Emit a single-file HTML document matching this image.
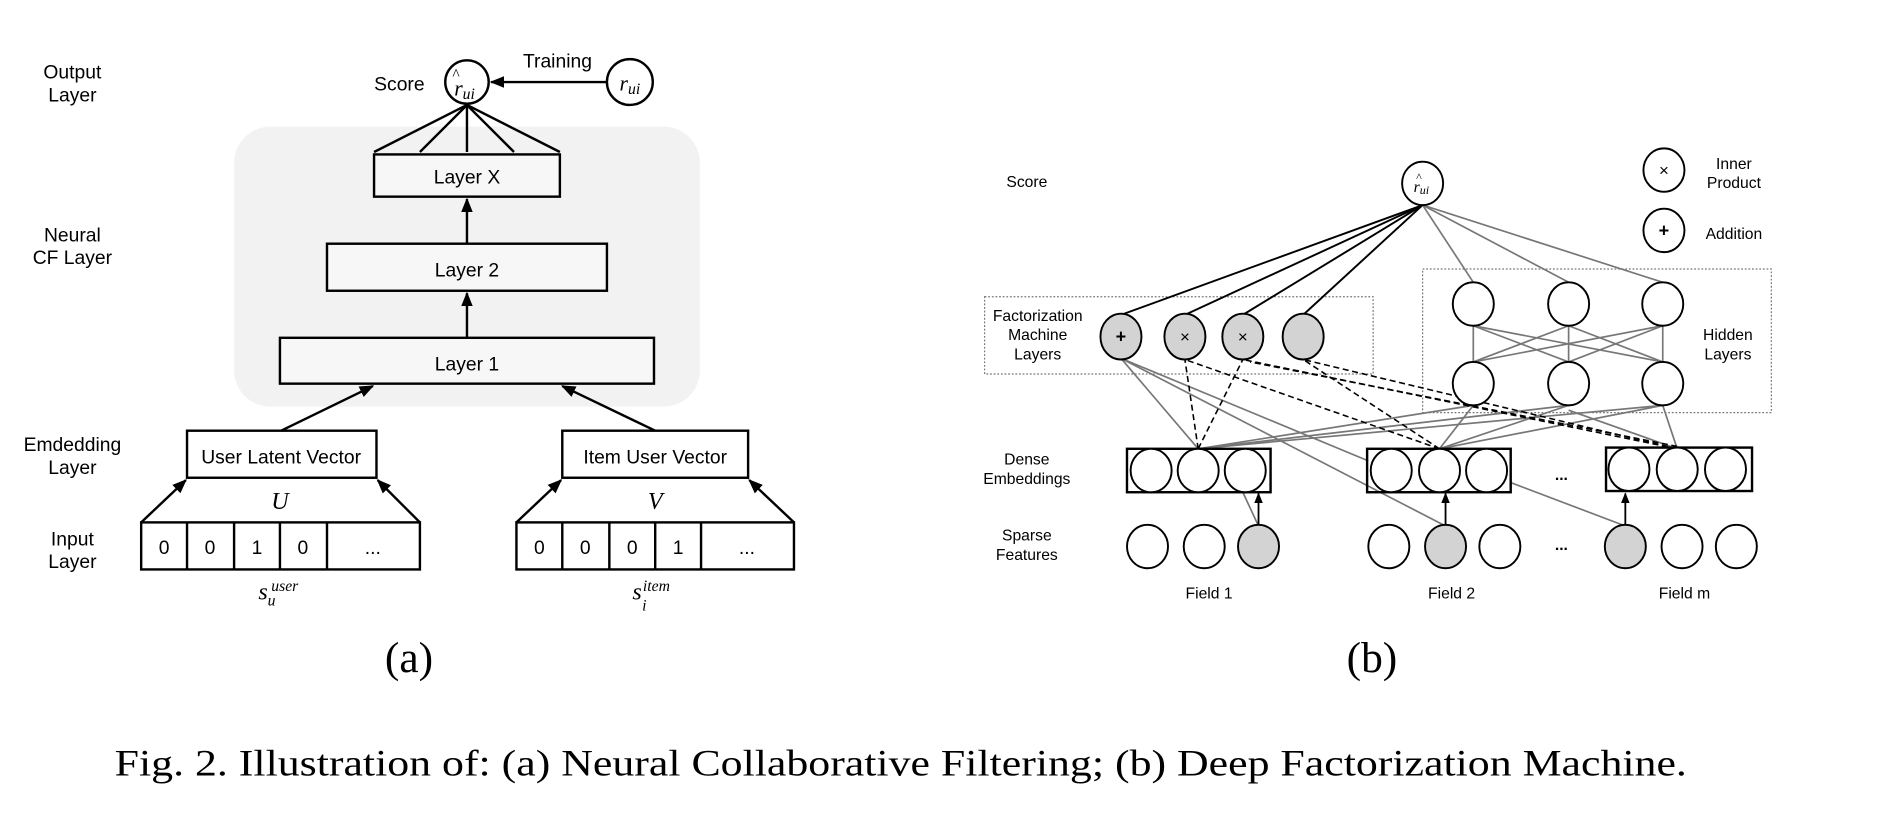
<!DOCTYPE html>
<html><head><meta charset="utf-8"><style>
html,body{margin:0;padding:0;background:#fff;width:1892px;height:824px;overflow:hidden}
svg{display:block}
text{font-family:"Liberation Sans",sans-serif;fill:#000}
.s{font-family:"Liberation Serif",serif;font-style:italic}
.r{font-family:"Liberation Serif",serif}
</style></head><body>
<svg width="1892" height="824" viewBox="0 0 1568 683" preserveAspectRatio="none">
<defs>
<marker id="a" viewBox="0 0 10 10" refX="9" refY="5" markerWidth="6" markerHeight="6" orient="auto"><path d="M0,1 L10,5 L0,9 z" fill="#000"/></marker>
</defs>
<rect x="194" y="105" width="386" height="232" rx="30" fill="#f2f2f2"/>
<g font-size="16" text-anchor="middle">
<text x="60" y="65">Output</text><text x="60" y="84">Layer</text>
<text x="60" y="200">Neural</text><text x="60" y="219">CF Layer</text>
<text x="60" y="374">Emdedding</text><text x="60" y="393">Layer</text>
<text x="60" y="452">Input</text><text x="60" y="471">Layer</text>
<text x="331" y="75">Score</text>
<text x="462" y="56">Training</text>
</g>
<g fill="none" stroke="#000" stroke-width="2">
<circle cx="387" cy="68" r="18" fill="#fff"/>
<circle cx="522" cy="68" r="19" fill="#fff"/>
<line x1="503" y1="68" x2="407" y2="68" marker-end="url(#a)"/>
<line x1="310" y1="126" x2="387" y2="87"/><line x1="348" y1="126" x2="387" y2="87"/><line x1="387" y1="126" x2="387" y2="87"/><line x1="426" y1="126" x2="387" y2="87"/><line x1="464" y1="126" x2="387" y2="87"/>
<rect x="310" y="128" width="154" height="35" fill="#f7f7f7"/>
<rect x="271" y="202" width="232" height="39" fill="#f7f7f7"/>
<rect x="232" y="280" width="310" height="38" fill="#f7f7f7"/>
<line x1="387" y1="202" x2="387" y2="165" marker-end="url(#a)"/>
<line x1="387" y1="280" x2="387" y2="243" marker-end="url(#a)"/>
<rect x="155" y="357" width="157" height="39" fill="#fff"/>
<rect x="466" y="357" width="154" height="39" fill="#fff"/>
<line x1="233" y1="357" x2="309" y2="320" marker-end="url(#a)"/>
<line x1="543" y1="357" x2="466" y2="320" marker-end="url(#a)"/>
<rect x="117" y="433" width="231" height="39"/>
<line x1="155" y1="433" x2="155" y2="472"/><line x1="194" y1="433" x2="194" y2="472"/><line x1="232" y1="433" x2="232" y2="472"/><line x1="271" y1="433" x2="271" y2="472"/>
<rect x="428" y="433" width="230" height="39"/>
<line x1="466" y1="433" x2="466" y2="472"/><line x1="505" y1="433" x2="505" y2="472"/><line x1="543" y1="433" x2="543" y2="472"/><line x1="581" y1="433" x2="581" y2="472"/>
<line x1="117" y1="433" x2="154" y2="398" marker-end="url(#a)"/>
<line x1="348" y1="433" x2="313" y2="398" marker-end="url(#a)"/>
<line x1="428" y1="433" x2="465" y2="398" marker-end="url(#a)"/>
<line x1="658" y1="433" x2="621" y2="398" marker-end="url(#a)"/>
</g>
<g font-size="16" text-anchor="middle">
<text x="387" y="152">Layer X</text><text x="387" y="229">Layer 2</text><text x="387" y="307">Layer 1</text>
<text x="233" y="384">User Latent Vector</text><text x="543" y="384">Item User Vector</text>
<text x="136" y="459">0</text><text x="174" y="459">0</text><text x="213" y="459">1</text><text x="251" y="459">0</text><text x="309" y="459">...</text>
<text x="447" y="459">0</text><text x="485" y="459">0</text><text x="524" y="459">0</text><text x="562" y="459">1</text><text x="619" y="459">...</text>
</g>
<g text-anchor="middle">
<text class="s" x="232" y="422" font-size="20">U</text><text class="s" x="543" y="422" font-size="20">V</text>
<text class="s" x="385" y="79" font-size="18">r<tspan font-size="13" dy="3">ui</tspan></text>
<text class="r" x="378" y="66" font-size="13">^</text>
<text class="s" x="522" y="75" font-size="18">r<tspan font-size="13" dy="3">ui</tspan></text>
<text class="s" x="218" y="497" font-size="20">s</text><text class="s" x="236" y="490" font-size="13">user</text><text class="s" x="225" y="502" font-size="13">u</text>
<text class="s" x="528" y="497" font-size="20">s</text><text class="s" x="544" y="490" font-size="13">item</text><text class="s" x="534" y="506" font-size="13">i</text>
</g>
<text class="r" x="339" y="557" font-size="36" text-anchor="middle">(a)</text>
<text class="r" x="1137" y="557" font-size="36" text-anchor="middle">(b)</text>
<text class="r" x="95" y="643" font-size="31" textLength="1303" lengthAdjust="spacingAndGlyphs">Fig. 2.  Illustration of: (a) Neural Collaborative Filtering; (b) Deep Factorization Machine.</text>

<g font-size="13" text-anchor="middle">
<text x="851" y="155">Score</text>
<text x="1437" y="140">Inner</text><text x="1437" y="156">Product</text>
<text x="1437" y="198">Addition</text>
<text x="860" y="266">Factorization</text><text x="860" y="282">Machine</text><text x="860" y="298">Layers</text>
<text x="1432" y="282">Hidden</text><text x="1432" y="298">Layers</text>
<text x="851" y="385">Dense</text><text x="851" y="401">Embeddings</text>
<text x="851" y="448">Sparse</text><text x="851" y="464">Features</text>
<text x="1002" y="496">Field 1</text><text x="1203" y="496">Field 2</text><text x="1396" y="496">Field m</text>
<text x="1294" y="398" font-weight="bold">...</text><text x="1294" y="456" font-weight="bold">...</text>
</g>
<g fill="none" stroke="#777" stroke-dasharray="1.5,1.5" stroke-width="1">
<rect x="816" y="246" width="322" height="64"/>
<rect x="1179" y="223" width="289" height="119"/>
</g>
<g stroke="#000" stroke-width="1.6">
<line x1="929" y1="261" x2="1179" y2="170"/><line x1="982" y1="261" x2="1179" y2="170"/><line x1="1030" y1="261" x2="1179" y2="170"/><line x1="1080" y1="261" x2="1179" y2="170"/>
</g>
<g stroke="#777" stroke-width="1.4">
<line x1="1221" y1="234" x2="1179" y2="170"/><line x1="1300" y1="234" x2="1179" y2="170"/><line x1="1378" y1="234" x2="1179" y2="170"/>
<line x1="1221" y1="300" x2="1221" y2="270"/><line x1="1221" y1="300" x2="1300" y2="270"/><line x1="1221" y1="300" x2="1378" y2="270"/>
<line x1="1300" y1="300" x2="1221" y2="270"/><line x1="1300" y1="300" x2="1300" y2="270"/><line x1="1300" y1="300" x2="1378" y2="270"/>
<line x1="1378" y1="300" x2="1221" y2="270"/><line x1="1378" y1="300" x2="1300" y2="270"/><line x1="1378" y1="300" x2="1378" y2="270"/>
<line x1="993" y1="372" x2="1221" y2="336"/><line x1="993" y1="372" x2="1300" y2="336"/><line x1="993" y1="372" x2="1378" y2="336"/>
<line x1="1193" y1="372" x2="1221" y2="336"/><line x1="1193" y1="372" x2="1300" y2="336"/><line x1="1193" y1="372" x2="1378" y2="336"/>
<line x1="1390" y1="372" x2="1378" y2="336"/><line x1="1390" y1="372" x2="1300" y2="340"/>
<line x1="993" y1="372" x2="929" y2="297"/><line x1="1134" y1="382" x2="929" y2="297"/><line x1="1198" y1="436" x2="929" y2="297"/>
<line x1="1030" y1="408" x2="1043" y2="436"/><line x1="1252" y1="400" x2="1347" y2="436"/>
</g>
<g stroke="#000" stroke-width="1.3" stroke-dasharray="5,3" fill="none">
<line x1="993" y1="372" x2="982" y2="298"/><line x1="993" y1="372" x2="1030" y2="298"/>
<line x1="1193" y1="372" x2="1080" y2="298"/><line x1="1193" y1="372" x2="982" y2="298"/>
<line x1="1390" y1="372" x2="1030" y2="298"/><line x1="1390" y1="372" x2="1080" y2="298"/><line x1="1390" y1="370" x2="1036" y2="300"/>
</g>
<g stroke="#000" stroke-width="1.5">
<line x1="1043" y1="436" x2="1043" y2="409" marker-end="url(#a)"/>
<line x1="1198" y1="436" x2="1198" y2="409" marker-end="url(#a)"/>
<line x1="1347" y1="436" x2="1347" y2="409" marker-end="url(#a)"/>
</g>
<g stroke="#000" stroke-width="1.6" fill="#fff">
<ellipse cx="1179" cy="152" rx="17" ry="18"/>
<ellipse cx="1379" cy="141" rx="17" ry="18"/>
<ellipse cx="1379" cy="191" rx="17" ry="18"/>
<ellipse cx="929" cy="279" rx="17" ry="19" fill="#d3d3d3"/>
<ellipse cx="982" cy="279" rx="17" ry="19" fill="#d3d3d3"/>
<ellipse cx="1030" cy="279" rx="17" ry="19" fill="#d3d3d3"/>
<ellipse cx="1080" cy="279" rx="17" ry="19" fill="#d3d3d3"/>
<ellipse cx="1221" cy="252" rx="17" ry="18"/><ellipse cx="1300" cy="252" rx="17" ry="18"/><ellipse cx="1378" cy="252" rx="17" ry="18"/>
<ellipse cx="1221" cy="318" rx="17" ry="18"/><ellipse cx="1300" cy="318" rx="17" ry="18"/><ellipse cx="1378" cy="318" rx="17" ry="18"/>
<rect x="934" y="372" width="119" height="36" fill="none" stroke-width="2"/>
<rect x="1133" y="372" width="119" height="36" fill="none" stroke-width="2"/>
<rect x="1331" y="371" width="121" height="36" fill="none" stroke-width="2"/>
<ellipse cx="954" cy="390" rx="17" ry="18"/><ellipse cx="993" cy="390" rx="17" ry="18"/><ellipse cx="1032" cy="390" rx="17" ry="18"/>
<ellipse cx="1153" cy="390" rx="17" ry="18"/><ellipse cx="1193" cy="390" rx="17" ry="18"/><ellipse cx="1232" cy="390" rx="17" ry="18"/>
<ellipse cx="1350" cy="389" rx="17" ry="18"/><ellipse cx="1390" cy="389" rx="17" ry="18"/><ellipse cx="1430" cy="389" rx="17" ry="18"/>
<ellipse cx="951" cy="453" rx="17" ry="18"/><ellipse cx="998" cy="453" rx="17" ry="18"/><ellipse cx="1043" cy="453" rx="17" ry="18" fill="#d3d3d3"/>
<ellipse cx="1151" cy="453" rx="17" ry="18"/><ellipse cx="1198" cy="453" rx="17" ry="18" fill="#d3d3d3"/><ellipse cx="1243" cy="453" rx="17" ry="18"/>
<ellipse cx="1347" cy="453" rx="17" ry="18" fill="#d3d3d3"/><ellipse cx="1394" cy="453" rx="17" ry="18"/><ellipse cx="1439" cy="453" rx="17" ry="18"/>
</g>
<g text-anchor="middle">
<text x="929" y="284" font-size="15" font-weight="bold">+</text>
<text x="1379" y="196" font-size="15" font-weight="bold">+</text>
<text x="982" y="284" font-size="14" fill="#444">×</text>
<text x="1030" y="284" font-size="14" fill="#444">×</text>
<text x="1379" y="146" font-size="14" fill="#444">×</text>
<text class="s" x="1178" y="159" font-size="13">r<tspan font-size="10" dy="2">ui</tspan></text>
<text class="r" x="1176" y="150" font-size="10">^</text>
</g>
</svg>
</body></html>
